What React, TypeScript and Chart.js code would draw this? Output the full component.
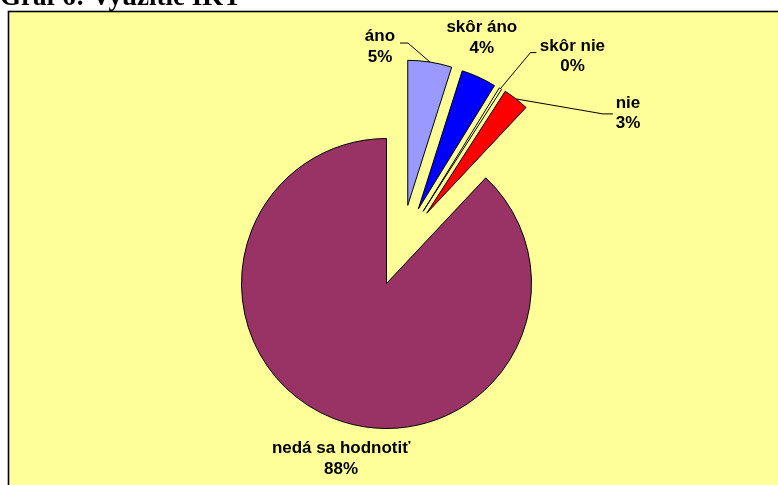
import React, { useEffect, useRef } from "react";
import { Chart, registerables } from "chart.js";

Chart.register(...registerables);

// ---- data ----
const TITLE = "Graf 6: Využitie IKT";
const CATEGORIES = ["áno", "skôr áno", "skôr nie", "nie", "nedá sa hodnotiť"];
const VALUES = [4.9, 3.9, 0.3, 2.9, 88.0];

// ---- styles / layout ----
const COLORS = ["#9999FF", "#0000FF", "#FFFF99", "#FF0000", "#993366"];
const EXPLODE = [81, 81, 81, 81, 0];
const BG = "#FFFF99";
const LABEL_FONT = 'bold 17px "Liberation Sans", Arial, sans-serif';
const LINE_H = 20.5;
// label baseline offset relative to the slice's outer mid point; leader points relative to label
const LABEL_LAYOUT: { dx: number; dy: number; leader: number[][] | null }[] = [
  { dx: -50, dy: -21, leader: [[20, 2], [28, 2]] },
  { dx: 3, dy: -45, leader: null },
  { dx: 72, dy: -38, leader: [[-36, 2], [-42, 2]] },
  { dx: 112, dy: 9, leader: [[-15, 6], [-25, 6]] },
  { dx: 8, dy: 35, leader: null },
];

const explodePlugin = {
  id: "explode",
  afterDatasetsUpdate(chart: any) {
    const arcs = chart.getDatasetMeta(0).data as any[];
    let gs = Infinity;
    let ge = -Infinity;
    arcs.forEach((a, i) => {
      if (EXPLODE[i] > 0) {
        gs = Math.min(gs, a.startAngle);
        ge = Math.max(ge, a.endAngle);
      }
    });
    const gmid = (gs + ge) / 2;
    arcs.forEach((a, i) => {
      const d = EXPLODE[i];
      if (!d) return;
      const mid = (a.startAngle + a.endAngle) / 2;
      const dir = (mid + gmid) / 2;
      a.x += Math.cos(dir) * d;
      a.y += Math.sin(dir) * d;
    });
  },
};

const backgroundPlugin = {
  id: "bgbox",
  beforeDraw(chart: any) {
    const ctx = chart.ctx as CanvasRenderingContext2D;
    ctx.save();
    ctx.fillStyle = "#FFFFFF";
    ctx.fillRect(0, 0, chart.width, chart.height);
    ctx.fillStyle = BG;
    ctx.fillRect(8.5, 11.5, chart.width + 20, chart.height + 20);
    ctx.strokeStyle = "#000";
    ctx.lineWidth = 1.6;
    ctx.strokeRect(8.5, 11.5, chart.width + 20, chart.height + 20);
    ctx.fillStyle = "#000";
    ctx.font = 'bold 27px "Liberation Serif", "Times New Roman", serif';
    ctx.textAlign = "left";
    ctx.textBaseline = "alphabetic";
    ctx.fillText(TITLE, 0, 5);
    ctx.restore();
  },
};

const labelPlugin = {
  id: "pieLabels",
  afterDatasetsDraw(chart: any) {
    const ctx = chart.ctx as CanvasRenderingContext2D;
    const arcs = chart.getDatasetMeta(0).data as any[];
    const total = VALUES.reduce((s, v) => s + v, 0);
    ctx.save();
    ctx.font = LABEL_FONT;
    ctx.textAlign = "center";
    ctx.textBaseline = "alphabetic";
    ctx.fillStyle = "#000";
    ctx.strokeStyle = "#000";
    ctx.lineWidth = 1;
    arcs.forEach((a, i) => {
      const mid = (a.startAngle + a.endAngle) / 2;
      const ax = a.x + Math.cos(mid) * a.outerRadius;
      const ay = a.y + Math.sin(mid) * a.outerRadius;
      const L = LABEL_LAYOUT[i];
      const lx = ax + L.dx;
      const ly = ay + L.dy;
      ctx.fillText(CATEGORIES[i], lx, ly);
      ctx.fillText(Math.round((VALUES[i] / total) * 100) + "%", lx, ly + LINE_H);
      if (L.leader) {
        ctx.beginPath();
        ctx.moveTo(lx + L.leader[0][0], ly + L.leader[0][1]);
        ctx.lineTo(lx + L.leader[1][0], ly + L.leader[1][1]);
        ctx.lineTo(ax, ay);
        ctx.stroke();
      }
    });
    ctx.restore();
  },
};

export default function App() {
  const ref = useRef<HTMLCanvasElement | null>(null);
  useEffect(() => {
    if (!ref.current) return;
    const chart = new Chart(ref.current, {
      type: "pie",
      data: {
        labels: CATEGORIES,
        datasets: [
          {
            data: VALUES,
            backgroundColor: COLORS,
            borderColor: "#000000",
            borderWidth: 1,
            borderJoinStyle: "miter",
          } as any,
        ],
      },
      options: {
        responsive: false,
        animation: false,
        events: [],
        radius: 145,
        layout: { padding: { left: 0, right: 5, top: 82, bottom: 0 } },
        plugins: {
          legend: { display: false },
          tooltip: { enabled: false },
          title: { display: false },
        },
      } as any,
      plugins: [backgroundPlugin, explodePlugin, labelPlugin],
    });
    return () => chart.destroy();
  }, []);
  return (
    <div style={{ position: "fixed", left: 0, top: 0, width: 778, height: 485, overflow: "hidden" }}>
      <canvas ref={ref} width={778} height={485} style={{ display: "block" }} />
    </div>
  );
}
